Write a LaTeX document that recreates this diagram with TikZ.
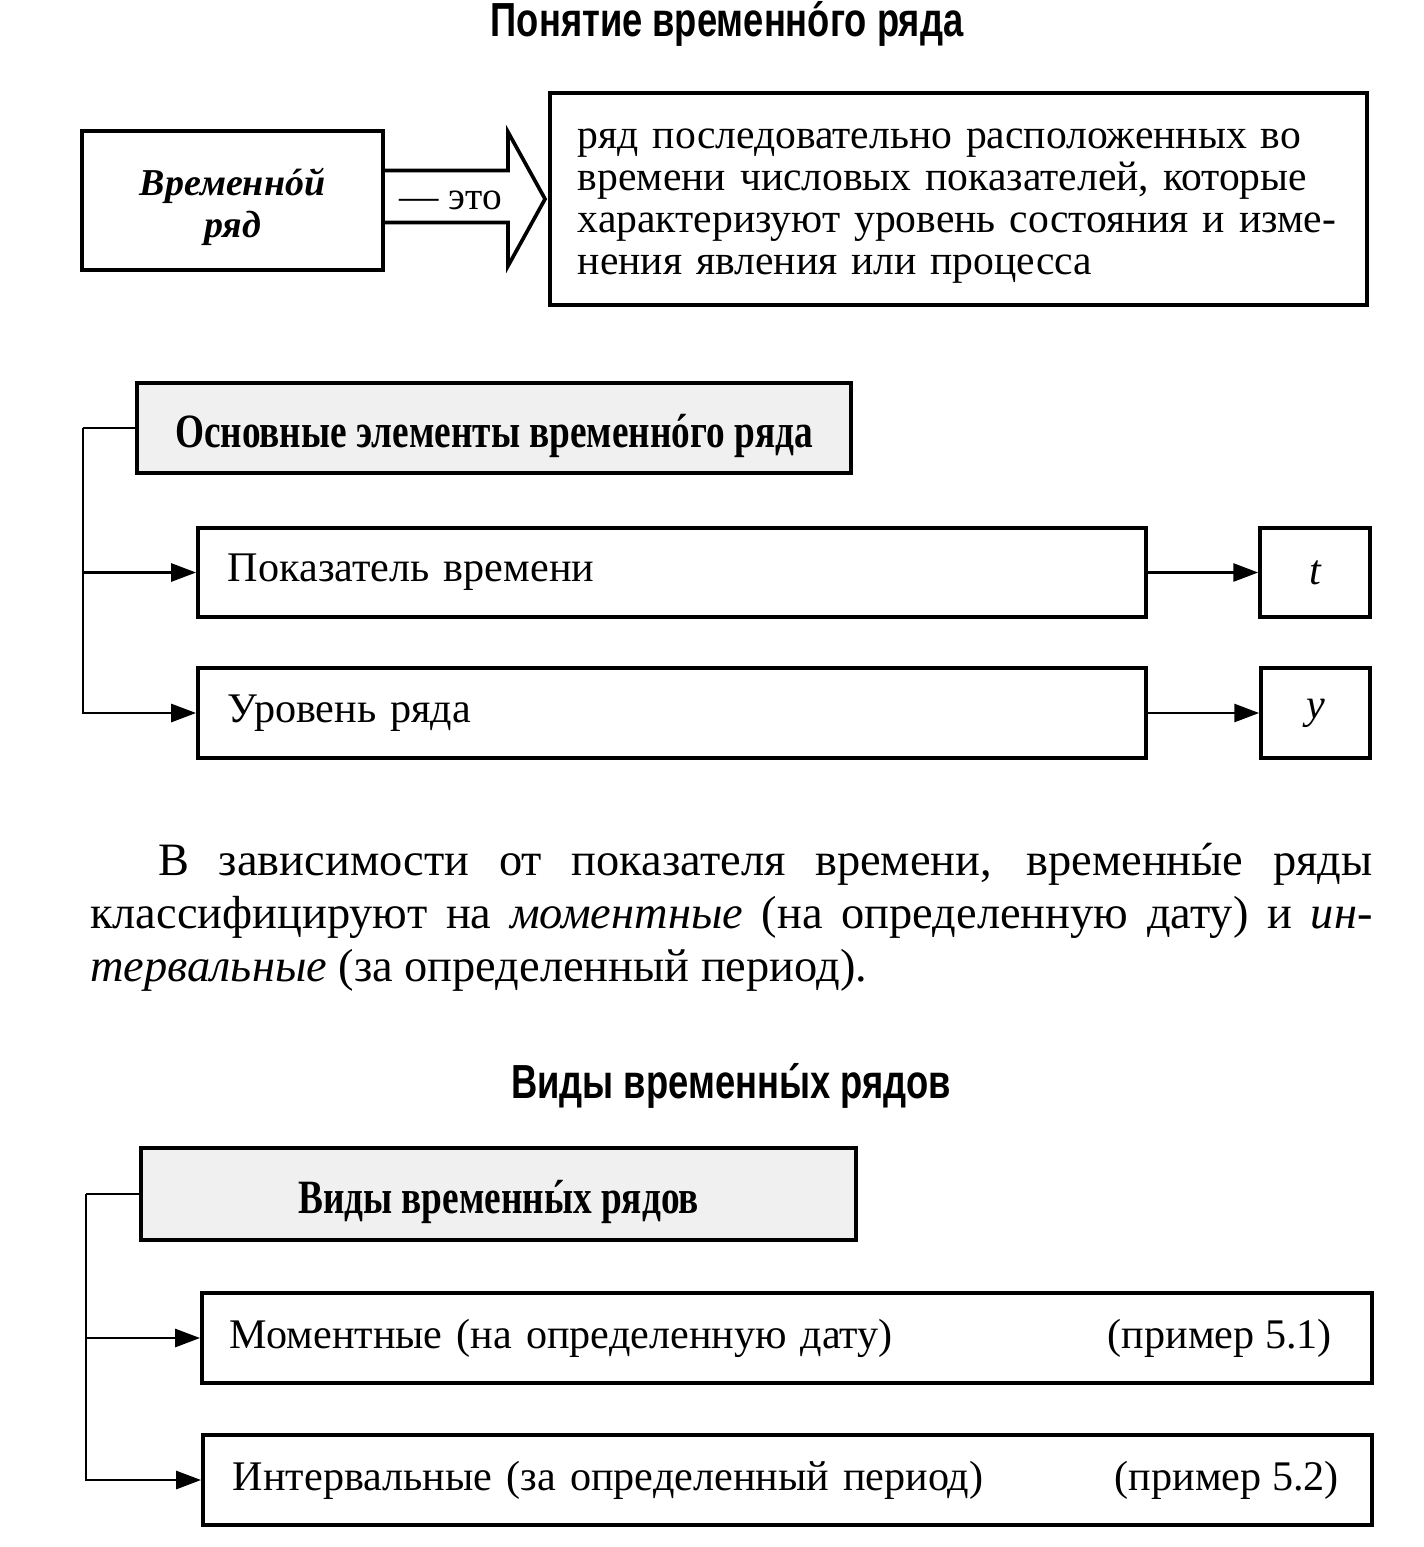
\documentclass[tikz,border=0pt]{standalone}
\usepackage{fontspec}
\setmainfont{Liberation Serif}
\newfontfamily\titlefont[FakeStretch=0.76]{Liberation Sans}
\newfontfamily\headfont[FakeStretch=0.78]{Liberation Serif}
\usetikzlibrary{arrows.meta,calc}

% stress mark over a letter
\newcommand\udar[1]{\ooalign{#1\cr\hidewidth\char"00B4\hidewidth\cr}}

\tikzset{
  box/.style={draw, line width=2.6pt, inner sep=0pt},
  headbox/.style={box, fill=gray!12},
  conn/.style={line width=1.8pt, -{Triangle[length=0.62cm,width=0.45cm]}},
  txt/.style={font=\fontsize{30}{34}\selectfont},
  titletxt/.style={font=\titlefont\bfseries\fontsize{34}{38}\selectfont},
  headtxt/.style={font=\headfont\bfseries\fontsize{34}{38}\selectfont, text height=1cm, text depth=0.05cm},
}

\begin{document}
\begin{tikzpicture}[x=0.025cm,y=-0.025cm]
\useasboundingbox (0,0) rectangle (1424,1547);

% part 1
\node[titletxt] (title1) at (727,25) {Понятие временн\udar{о}го ряда};
\node[box, minimum width=7.525cm, minimum height=3.475cm] (vr) at (232.5,200.5) {};
\node[align=center, inner sep=0pt, font=\bfseries\itshape\fontsize{27}{30}\selectfont]
  (vrtext) at ([shift={(0,6)}]vr.center) {Временн\udar{о}й\\ряд};
\node[box, minimum width=20.425cm, minimum height=5.3cm] (defn) at (958.5,199) {};
\node[text width=19.025cm, align=left, inner sep=0pt, font=\fontsize{29.6}{30}\selectfont]
  (defntext) at ([shift={(0,7)}]defn.center)
  {ряд последовательно расположенных во\\
   времени числовых показателей, которые\\
   характеризуют уровень состояния и изме-\\
   нения явления или процесса};
\coordinate (tip) at ([shift={(-3,0)}]defn.west);
\draw[line width=2.6pt, line join=miter]
  ([shift={(0,-30)}]vr.east) -- (508,170.5) -- (508,132) -- (tip)
  -- (508,266) -- (508,222.5) -- ([shift={(0,22)}]vr.east);
\node[font=\fontsize{28}{30}\selectfont] (eto) at (451,200) {— это};

% part 2
\node[headbox, minimum width=17.85cm, minimum height=2.25cm, headtxt] (elem) at (494,428)
  {Основные элементы временн\udar{о}го ряда};
\node[box, minimum width=23.7cm, minimum height=2.225cm, inner xsep=0.75cm,
  text width=22.2cm, align=left, txt] (pokaz) at (672,572.5) {Показатель времени};
\node[box, minimum width=23.7cm, minimum height=2.25cm, inner xsep=0.75cm,
  text width=22.2cm, align=left, txt] (uroven) at (672,713) {Уровень ряда};
\node[box, minimum width=2.75cm, minimum height=2.225cm, font=\itshape\fontsize{30}{34}\selectfont]
  (t) at (1315,572.5) {t};
\node[box, minimum width=2.725cm, minimum height=2.25cm, font=\itshape\fontsize{30}{34}\selectfont]
  (y) at (1315.5,713) {y};

\draw[line width=1.8pt] (elem.west) -- ++(-52,0) coordinate (elemturn);
\draw[conn] (elemturn) |- (pokaz.west);
\draw[conn] (elemturn) |- (uroven.west);
\draw[conn] (pokaz.east) -- (t.west);
\draw[conn] (uroven.east) -- (y.west);

% paragraph
\node[anchor=west, align=left, inner sep=0pt, font=\fontsize{33}{37.6}\selectfont]
  (para) at (90,918)
  {\makebox[32.05cm][s]{\hspace*{1.7cm}В зависимости от показателя времени, временн\udar{ы}е ряды}\\
   \makebox[32.05cm][s]{классифицируют на \textit{моментные} (на определенную дату) и \textit{ин-}}\\
   \textit{тервальные} (за определенный период).};

% part 3
\node[titletxt] (title2) at (731,1087) {Виды временн\udar{ы}х рядов};
\node[headbox, minimum width=17.875cm, minimum height=2.3cm, headtxt] (vidy) at (498.5,1194)
  {Виды временн\udar{ы}х рядов};
\node[box, minimum width=29.25cm, minimum height=2.25cm, inner xsep=0.7cm,
  text width=27.85cm, align=left, txt] (mom) at (787,1338)
  {Моментные (на определенную дату)};
\node[anchor=east, txt] (momex) at ([shift={(-37,0)}]mom.east) {(пример 5.1)};
\node[box, minimum width=29.225cm, minimum height=2.25cm, inner xsep=0.75cm,
  text width=27.725cm, align=left, txt] (int) at (787.5,1480)
  {Интервальные (за определенный период)};
\node[anchor=east, txt] (intex) at ([shift={(-30,0)}]int.east) {(пример 5.2)};

\draw[line width=1.8pt] (vidy.west) -- ++(-53,0) coordinate (vidyturn);
\draw[conn] (vidyturn) |- (mom.west);
\draw[conn] (vidyturn) |- (int.west);
\end{tikzpicture}
\end{document}
